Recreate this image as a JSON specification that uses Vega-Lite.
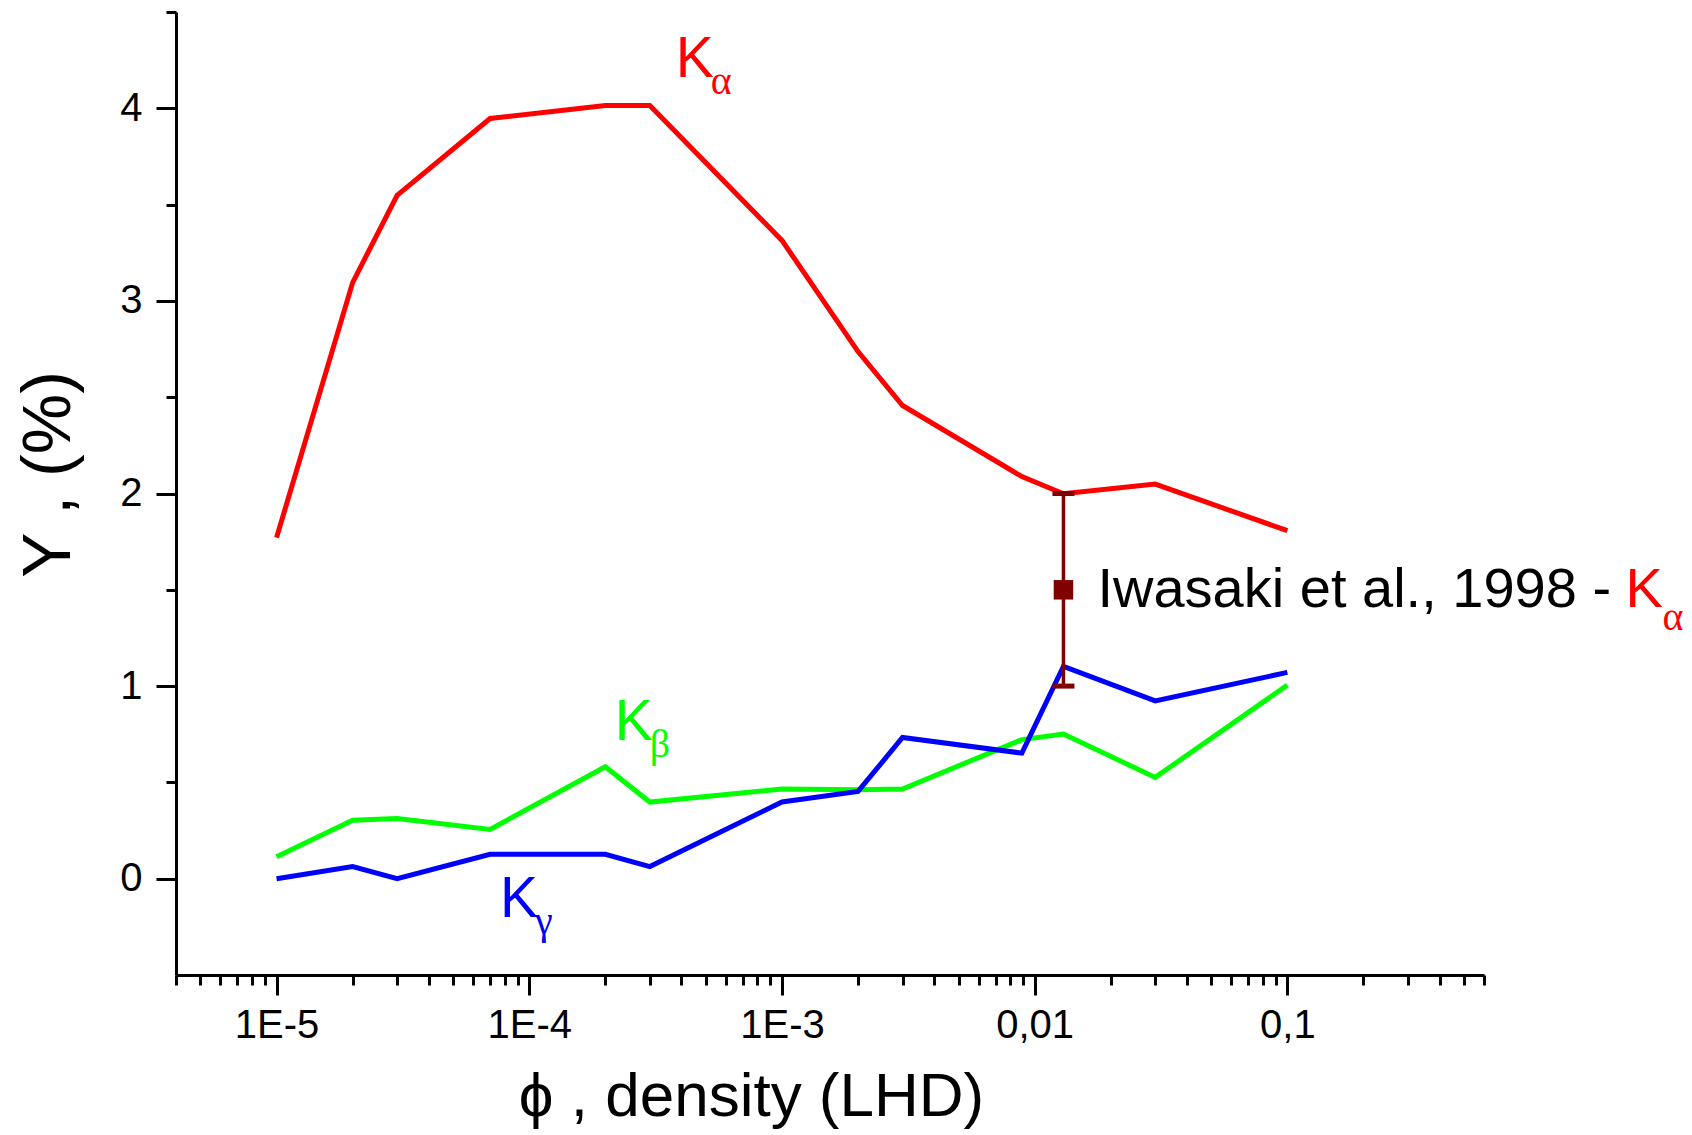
{
  "$schema": "https://vega.github.io/schema/vega-lite/v6.json",
  "width": 1308,
  "height": 963,
  "autosize": {"type": "none"},
  "padding": {"left": 176, "top": 12, "right": 208, "bottom": 160},
  "background": "white",
  "config": {"view": {"stroke": null}, "font": "Liberation Sans"},
  "datasets": {
    "curves": [
      {"series": "Kα", "phi": 1e-5, "Y": 1.771},
      {"series": "Kα", "phi": 2e-5, "Y": 3.095},
      {"series": "Kα", "phi": 3e-5, "Y": 3.548},
      {"series": "Kα", "phi": 7e-5, "Y": 3.947},
      {"series": "Kα", "phi": 2e-4, "Y": 4.015},
      {"series": "Kα", "phi": 3e-4, "Y": 4.015},
      {"series": "Kα", "phi": 1e-3, "Y": 3.314},
      {"series": "Kα", "phi": 2e-3, "Y": 2.737},
      {"series": "Kα", "phi": 3e-3, "Y": 2.457},
      {"series": "Kα", "phi": 0.0089, "Y": 2.088},
      {"series": "Kα", "phi": 0.013, "Y": 1.999},
      {"series": "Kα", "phi": 0.03, "Y": 2.049},
      {"series": "Kα", "phi": 0.1, "Y": 1.807},
      {"series": "Kβ", "phi": 1e-5, "Y": 0.114},
      {"series": "Kβ", "phi": 2e-5, "Y": 0.303},
      {"series": "Kβ", "phi": 3e-5, "Y": 0.312},
      {"series": "Kβ", "phi": 7e-5, "Y": 0.256},
      {"series": "Kβ", "phi": 2e-4, "Y": 0.581},
      {"series": "Kβ", "phi": 3e-4, "Y": 0.398},
      {"series": "Kβ", "phi": 1e-3, "Y": 0.466},
      {"series": "Kβ", "phi": 2e-3, "Y": 0.462},
      {"series": "Kβ", "phi": 3e-3, "Y": 0.466},
      {"series": "Kβ", "phi": 0.0089, "Y": 0.722},
      {"series": "Kβ", "phi": 0.013, "Y": 0.751},
      {"series": "Kβ", "phi": 0.03, "Y": 0.526},
      {"series": "Kβ", "phi": 0.1, "Y": 1.005},
      {"series": "Kγ", "phi": 1e-5, "Y": 0.0},
      {"series": "Kγ", "phi": 2e-5, "Y": 0.063},
      {"series": "Kγ", "phi": 3e-5, "Y": 0.0},
      {"series": "Kγ", "phi": 7e-5, "Y": 0.127},
      {"series": "Kγ", "phi": 2e-4, "Y": 0.127},
      {"series": "Kγ", "phi": 3e-4, "Y": 0.063},
      {"series": "Kγ", "phi": 1e-3, "Y": 0.398},
      {"series": "Kγ", "phi": 2e-3, "Y": 0.453},
      {"series": "Kγ", "phi": 3e-3, "Y": 0.733},
      {"series": "Kγ", "phi": 0.0089, "Y": 0.652},
      {"series": "Kγ", "phi": 0.013, "Y": 1.102},
      {"series": "Kγ", "phi": 0.03, "Y": 0.923},
      {"series": "Kγ", "phi": 0.1, "Y": 1.071}
    ],
    "iwasaki": [{"phi": 0.013, "Y": 1.5, "lo": 1.0, "hi": 2.0}],
    "labels": [
      {"series": "Kα", "phi": 3.8e-4, "Y": 4.162, "sub": "α"},
      {"series": "Kβ", "phi": 2.18e-4, "Y": 0.7205, "sub": "β"},
      {"series": "Kγ", "phi": 7.66e-5, "Y": -0.2, "sub": "γ"}
    ]
  },
  "encoding": {
    "x": {
      "field": "phi", "type": "quantitative",
      "scale": {"type": "log", "domain": [4e-6, 0.6]},
      "axis": {
        "title": "ϕ , density (LHD)",
        "titleFont": "Liberation Sans",
        "titleFontSize": 62,
        "titleFontWeight": "normal",
        "titleColor": "black",
        "titleX": 575,
        "titleY": 140,
        "titleAlign": "center",
        "titleBaseline": "alphabetic",
        "values": [4e-6, 5e-6, 6e-6, 7e-6, 8e-6, 9e-6, 1e-5, 2e-5, 3e-5, 4e-5, 5e-5, 6e-5, 7e-5, 8e-5, 9e-5, 1e-4, 2e-4, 3e-4, 4e-4, 5e-4, 6e-4, 7e-4, 8e-4, 9e-4, 1e-3, 2e-3, 3e-3, 4e-3, 5e-3, 6e-3, 7e-3, 8e-3, 9e-3, 0.01, 0.02, 0.03, 0.04, 0.05, 0.06, 0.07, 0.08, 0.09, 0.1, 0.2, 0.3, 0.4, 0.5, 0.6],
        "labelExpr": "abs(log(datum.value)/LN10 - round(log(datum.value)/LN10)) < 0.01 ? (datum.value < 0.005 ? '1E' + round(log(datum.value)/LN10) : replace(toString(datum.value), '.', ',')) : ''",
        "labelFont": "Liberation Sans",
        "labelFontSize": 40,
        "labelColor": "black",
        "labelPadding": 10,
        "labelOverlap": false,
        "labelFlush": false,
        "labelBound": false,
        "tickSize": {"condition": {"test": "abs(log(datum.value)/LN10 - round(log(datum.value)/LN10)) < 0.01", "value": 20}, "value": 10},
        "tickWidth": 3,
        "tickColor": "black",
        "domainColor": "black",
        "domainWidth": 3,
        "grid": false
      }
    }
  },
  "layer": [
    {
      "data": {"name": "curves"},
      "mark": {"type": "line", "strokeWidth": 5, "strokeJoin": "miter"},
      "encoding": {
        "y": {
          "field": "Y", "type": "quantitative",
          "scale": {"domain": [-0.5, 4.5], "nice": false, "zero": false},
          "axis": {
            "title": "Y , (%)",
            "titleFont": "Liberation Sans",
            "titleFontSize": 68,
            "titleFontWeight": "normal",
            "titleColor": "black",
            "titleX": -107,
            "titleY": 462,
            "titleAngle": -90,
            "titleAlign": "center",
            "titleBaseline": "alphabetic",
            "values": [0, 0.5, 1, 1.5, 2, 2.5, 3, 3.5, 4, 4.5],
            "labelExpr": "datum.value % 1 == 0 ? format(datum.value, 'd') : ''",
            "labelFont": "Liberation Sans",
            "labelFontSize": 40,
            "labelColor": "black",
            "labelPadding": 14,
            "labelOverlap": false,
            "labelFlush": false,
            "labelBound": false,
            "tickSize": {"condition": {"test": "datum.value % 1 == 0", "value": 20}, "value": 10},
            "tickWidth": 3,
            "tickColor": "black",
            "domainColor": "black",
            "domainWidth": 3,
            "grid": false
          }
        },
        "color": {
          "field": "series", "type": "nominal",
          "scale": {"domain": ["Kα", "Kβ", "Kγ"], "range": ["#ff0000", "#00ff00", "#0000ff"]},
          "legend": null
        },
        "order": {"field": "phi", "type": "quantitative"}
      }
    },
    {
      "data": {"name": "iwasaki"},
      "mark": {"type": "rule", "color": "#800000", "strokeWidth": 3.5},
      "encoding": {
        "y": {"field": "lo", "type": "quantitative"},
        "y2": {"field": "hi"}
      }
    },
    {
      "data": {"name": "iwasaki"},
      "mark": {"type": "tick", "orient": "horizontal", "color": "#800000", "size": 22, "thickness": 5, "opacity": 1},
      "encoding": {
        "y": {"field": "lo", "type": "quantitative"}
      }
    },
    {
      "data": {"name": "iwasaki"},
      "mark": {"type": "tick", "orient": "horizontal", "color": "#800000", "size": 22, "thickness": 5, "opacity": 1},
      "encoding": {
        "y": {"field": "hi", "type": "quantitative"}
      }
    },
    {
      "data": {"name": "iwasaki"},
      "mark": {"type": "square", "color": "#800000", "filled": true, "size": 380, "opacity": 1},
      "encoding": {
        "y": {"field": "Y", "type": "quantitative"}
      }
    },
    {
      "data": {"name": "iwasaki"},
      "mark": {"type": "text", "text": "Iwasaki et al., 1998 - ", "font": "Liberation Sans", "fontSize": 56, "color": "black", "align": "left", "baseline": "alphabetic", "dx": 34, "dy": 17},
      "encoding": {
        "y": {"field": "Y", "type": "quantitative"}
      }
    },
    {
      "data": {"name": "iwasaki"},
      "mark": {"type": "text", "text": "K", "font": "Liberation Sans", "fontSize": 56, "color": "#ff0000", "align": "left", "baseline": "alphabetic", "dx": 562, "dy": 17},
      "encoding": {
        "y": {"field": "Y", "type": "quantitative"}
      }
    },
    {
      "data": {"name": "iwasaki"},
      "mark": {"type": "text", "text": "α", "font": "Liberation Serif", "fontSize": 40, "color": "#ff0000", "align": "left", "baseline": "alphabetic", "dx": 599, "dy": 40},
      "encoding": {
        "y": {"field": "Y", "type": "quantitative"}
      }
    },
    {
      "data": {"name": "labels"},
      "mark": {"type": "text", "text": "K", "font": "Liberation Sans", "fontSize": 57, "align": "left", "baseline": "alphabetic"},
      "encoding": {
        "y": {"field": "Y", "type": "quantitative"},
        "color": {"field": "series", "type": "nominal", "scale": {"domain": ["Kα", "Kβ", "Kγ"], "range": ["#ff0000", "#00ff00", "#0000ff"]}, "legend": null}
      }
    },
    {
      "data": {"name": "labels"},
      "mark": {"type": "text", "font": "Liberation Serif", "fontSize": 40, "align": "left", "baseline": "alphabetic", "dx": 35, "dy": 17},
      "encoding": {
        "y": {"field": "Y", "type": "quantitative"},
        "text": {"field": "sub"},
        "color": {"field": "series", "type": "nominal", "scale": {"domain": ["Kα", "Kβ", "Kγ"], "range": ["#ff0000", "#00ff00", "#0000ff"]}, "legend": null}
      }
    }
  ]
}
